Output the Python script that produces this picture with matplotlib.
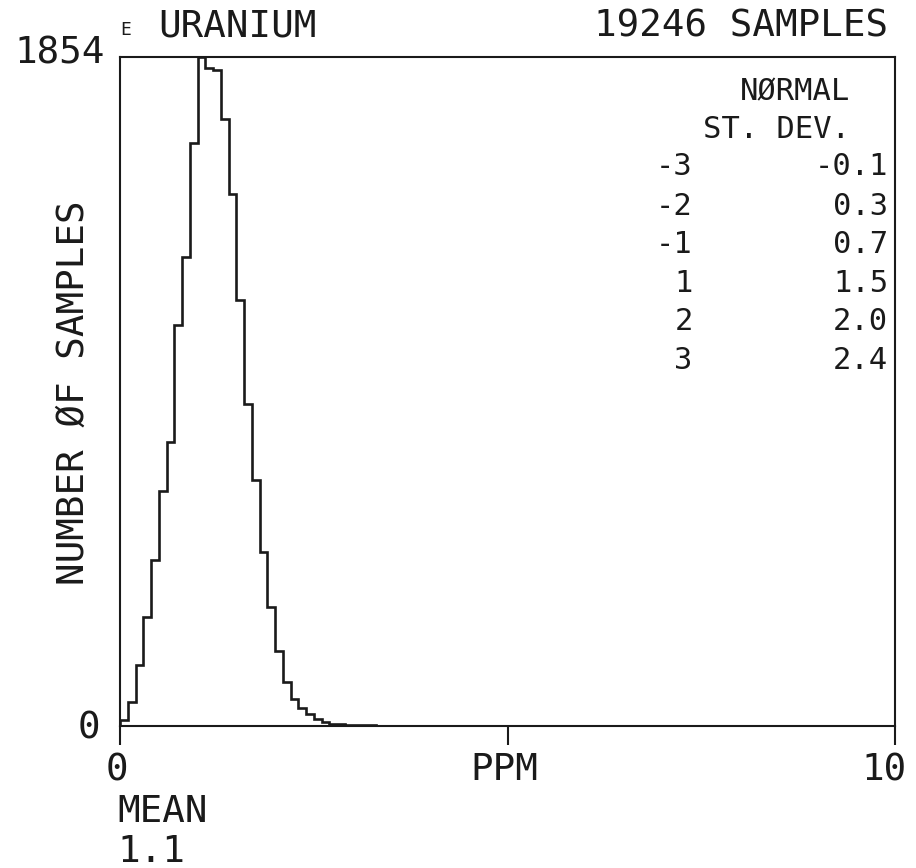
import numpy as np
import matplotlib.pyplot as plt

# uranium counts per 0.1 ppm class, starting at 0 ppm
bin_width = 0.1
counts = [17, 66, 169, 302, 459, 651, 786, 1112, 1300, 1617,
          1854, 1824, 1817, 1681, 1474, 1181, 891, 683, 482, 330,
          208, 121, 76, 50, 32, 19, 10, 6, 5, 4,
          3, 2, 2, 1, 1, 1, 1, 1, 0, 1,
          1, 0, 1, 0, 0, 1, 0, 0, 1, 0,
          1, 0, 0, 0, 0, 0, 0, 0, 0, 0,
          0, 1]
n_samples = 19246
mean_ppm = "1.1"

sd_steps = ["-3", "-2", "-1", "1", "2", "3"]
sd_values = ["-0.1", "0.3", "0.7", "1.5", "2.0", "2.4"]

edges = np.arange(len(counts) + 1) * bin_width
ymax = max(counts)

plt.rcParams["font.family"] = ["DejaVu Sans Mono", "DejaVu Sans"]
ink = "#1a1a1a"

fig = plt.figure(figsize=(9.16, 8.68), dpi=100)
ax = fig.add_axes([120 / 916, 142 / 868, 775 / 916, 669 / 868])

ax.stairs(counts, edges, baseline=0, color=ink, lw=1.9)
ax.set_xlim(0, 10)
ax.set_ylim(0, ymax)

for s in ax.spines.values():
    s.set_linewidth(1.5)
    s.set_color(ink)

ax.set_xticks([0, 5, 10])
ax.set_yticks([])
ax.tick_params(axis="x", direction="out", length=14, width=1.5,
               color=ink, labelbottom=False)

big = 27
small = 22
tr = ax.transAxes

# axis labels
ax.text(-0.0039, -0.066, "0", transform=tr, ha="center", va="center", fontsize=big, color=ink)
ax.text(0.4955, -0.066, "PPM", transform=tr, ha="center", va="center", fontsize=big, color=ink)
ax.text(0.9858, -0.066, "10", transform=tr, ha="center", va="center", fontsize=big, color=ink)
ax.text(-0.0194, 1.0045, str(ymax), transform=tr, ha="right", va="center", fontsize=big, color=ink)
ax.text(-0.0258, -0.003, "0", transform=tr, ha="right", va="center", fontsize=big, color=ink)
ax.text(-0.0594, 0.498, "NUMBER ØF SAMPLES", transform=tr, rotation=90,
        ha="center", va="center", fontsize=big, color=ink)

# header
ax.text(0.0, 1.040, "E", transform=tr, ha="left", va="center", fontsize=13, color=ink)
ax.text(0.049, 1.045, "URANIUM", transform=tr, ha="left", va="center", fontsize=big, color=ink)
ax.text(0.991, 1.045, f"{n_samples} SAMPLES", transform=tr, ha="right", va="center",
        fontsize=big, color=ink)

# mean below the axis
ax.text(-0.003, -0.1285, "MEAN", transform=tr, ha="left", va="center", fontsize=big, color=ink)
ax.text(-0.003, -0.188, mean_ppm, transform=tr, ha="left", va="center", fontsize=big, color=ink)

# standard deviation table
ax.text(0.942, 0.948, "NØRMAL", transform=tr, ha="right", va="center", fontsize=small, color=ink)
ax.text(0.942, 0.891, "ST. DEV.", transform=tr, ha="right", va="center", fontsize=small, color=ink)
row_y = [0.836, 0.777, 0.719, 0.662, 0.604, 0.547]
for y, k, v in zip(row_y, sd_steps, sd_values):
    ax.text(0.739, y, k, transform=tr, ha="right", va="center", fontsize=small, color=ink)
    ax.text(0.991, y, v, transform=tr, ha="right", va="center", fontsize=small, color=ink)

fig.savefig("out.png", dpi=100)
